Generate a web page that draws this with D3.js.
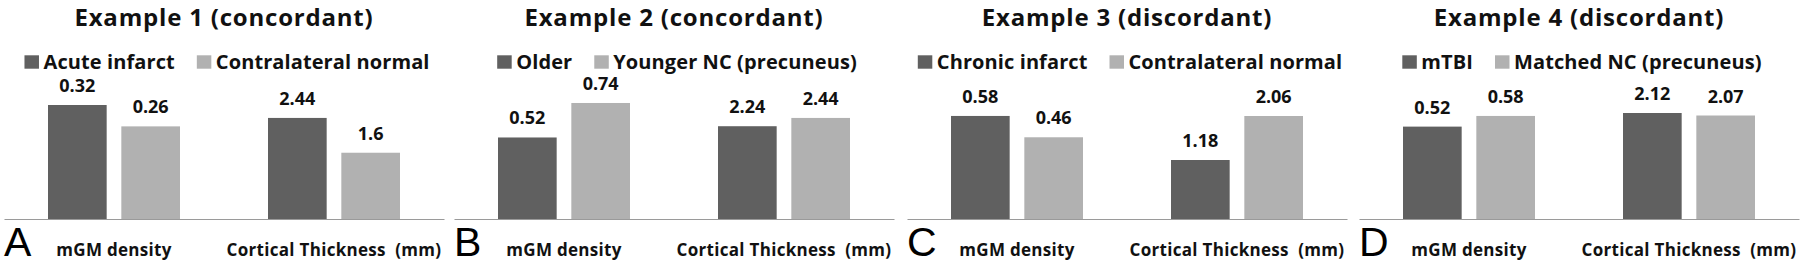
<!DOCTYPE html>
<html>
<head>
<meta charset="utf-8">
<script src="https://cdn.jsdelivr.net/npm/d3@7"></script>
<style>
  body { margin: 0; background: #fff; }
  svg { display: block; font-family: "Open Sans", Lato, sans-serif; }
</style>
</head>
<body>
<div class="chart"></div>
<script>
// four small grouped bar panels side by side
var width = 1800;
var height = 265;

// data
var titles = ["Example 1 (concordant)", "Example 2 (concordant)", "Example 3 (discordant)", "Example 4 (discordant)"];
var panelLetters = ["A", "B", "C", "D"];
var categories = ["mGM density", "Cortical Thickness  (mm)"];
var seriesNames = [
  ["Acute infarct", "Contralateral normal"],
  ["Older", "Younger NC (precuneus)"],
  ["Chronic infarct", "Contralateral normal"],
  ["mTBI", "Matched NC (precuneus)"]
];
// first series (dark) and second series (light), per panel: [mGM, thickness]
var darkValues = [[0.32, 2.44], [0.52, 2.24], [0.58, 1.18], [0.52, 2.12]];
var lightValues = [[0.26, 1.6], [0.74, 2.44], [0.46, 2.06], [0.58, 2.07]];
// each category was scaled on its own axis in the original
var axisMax = [[0.393, 3.38], [0.893, 3.38], [0.788, 2.80], [0.788, 2.80]];

var colors = ["#606060", "#b1b1b1"];
var panelX = [0, 450, 903, 1355];
var baseY = 219, topY = 79;

const svg = d3.select(".chart")
              .append("svg")
              .attr("width", width)
              .attr("height", height);

svg.append("rect").attr("width", width).attr("height", height).attr("fill", "#fff");

panelLetters.forEach(function(letter, i) {
  var g = svg.append("g")
             .attr("transform", "translate(" + panelX[i] + ",0)");

  var x0 = d3.scaleBand()
             .domain(categories)
             .range([4, 444]);
  var x1 = d3.scaleBand()
             .domain([0, 1])
             .range([0, x0.bandwidth()])
             .paddingInner(0.2)
             .paddingOuter(0.6);

  // title
  g.append("text")
   .attr("x", 224)
   .attr("y", 26)
   .attr("text-anchor", "middle")
   .attr("font-size", 24)
   .attr("font-weight", "bold")
   .attr("letter-spacing", 0.8)
   .attr("fill", "#111")
   .text(titles[i]);

  // legend
  var legend = g.append("g");
  var lx = 0;
  seriesNames[i].forEach(function(name, s) {
    var item = legend.append("g").attr("transform", "translate(" + lx + ",0)");
    item.append("rect")
        .attr("x", 0)
        .attr("y", 55.3)
        .attr("width", 14.5)
        .attr("height", 13.4)
        .attr("fill", colors[s]);
    var t = item.append("text")
        .attr("x", 19)
        .attr("y", 68.7)
        .attr("font-size", 20)
        .attr("font-weight", "bold")
        .attr("letter-spacing", 0.1)
        .attr("fill", "#111")
        .text(name);
    lx += 19 + t.node().getComputedTextLength() + 22;
  });
  var lw = lx - 22;
  legend.attr("transform", "translate(" + (227 - lw / 2) + ",0)");

  // bars
  categories.forEach(function(cat, c) {
    var y = d3.scaleLinear()
              .domain([0, axisMax[i][c]])
              .range([baseY, topY]);
    var vals = [darkValues[i][c], lightValues[i][c]];
    var grp = g.append("g").attr("transform", "translate(" + x0(cat) + ",0)");
    grp.selectAll("rect")
       .data(vals)
       .enter()
       .append("rect")
       .attr("x", (d, s) => x1(s))
       .attr("y", d => y(d))
       .attr("width", x1.bandwidth())
       .attr("height", d => baseY - y(d))
       .attr("fill", (d, s) => colors[s]);
    grp.selectAll("text")
       .data(vals)
       .enter()
       .append("text")
       .attr("x", (d, s) => x1(s) + x1.bandwidth() / 2)
       .attr("y", d => y(d) - 13)
       .attr("text-anchor", "middle")
       .attr("font-size", 18)
       .attr("font-weight", "bold")
       .attr("fill", "#111")
       .text(d => d);
  });

  // category axis
  g.append("g")
   .attr("transform", "translate(0," + baseY + ")")
   .call(d3.axisBottom(x0).tickSize(0).tickSizeOuter(0).tickPadding(25))
   .call(a => a.select(".domain").attr("stroke", "#9a9a9a").attr("stroke-width", 1.2))
   .call(a => a.selectAll(".tick text")
               .attr("font-family", "'Open Sans', sans-serif")
               .attr("font-size", 17)
               .attr("font-weight", "bold")
               .attr("letter-spacing", 0.3)
               .attr("fill", "#111")
               .style("white-space", "pre"));

  // panel letter
  g.append("text")
   .attr("x", 4)
   .attr("y", 256)
   .attr("font-family", "Liberation Sans, Arial, sans-serif")
   .attr("font-size", 41)
   .attr("fill", "#000")
   .text(letter);
});
</script>
</body>
</html>
